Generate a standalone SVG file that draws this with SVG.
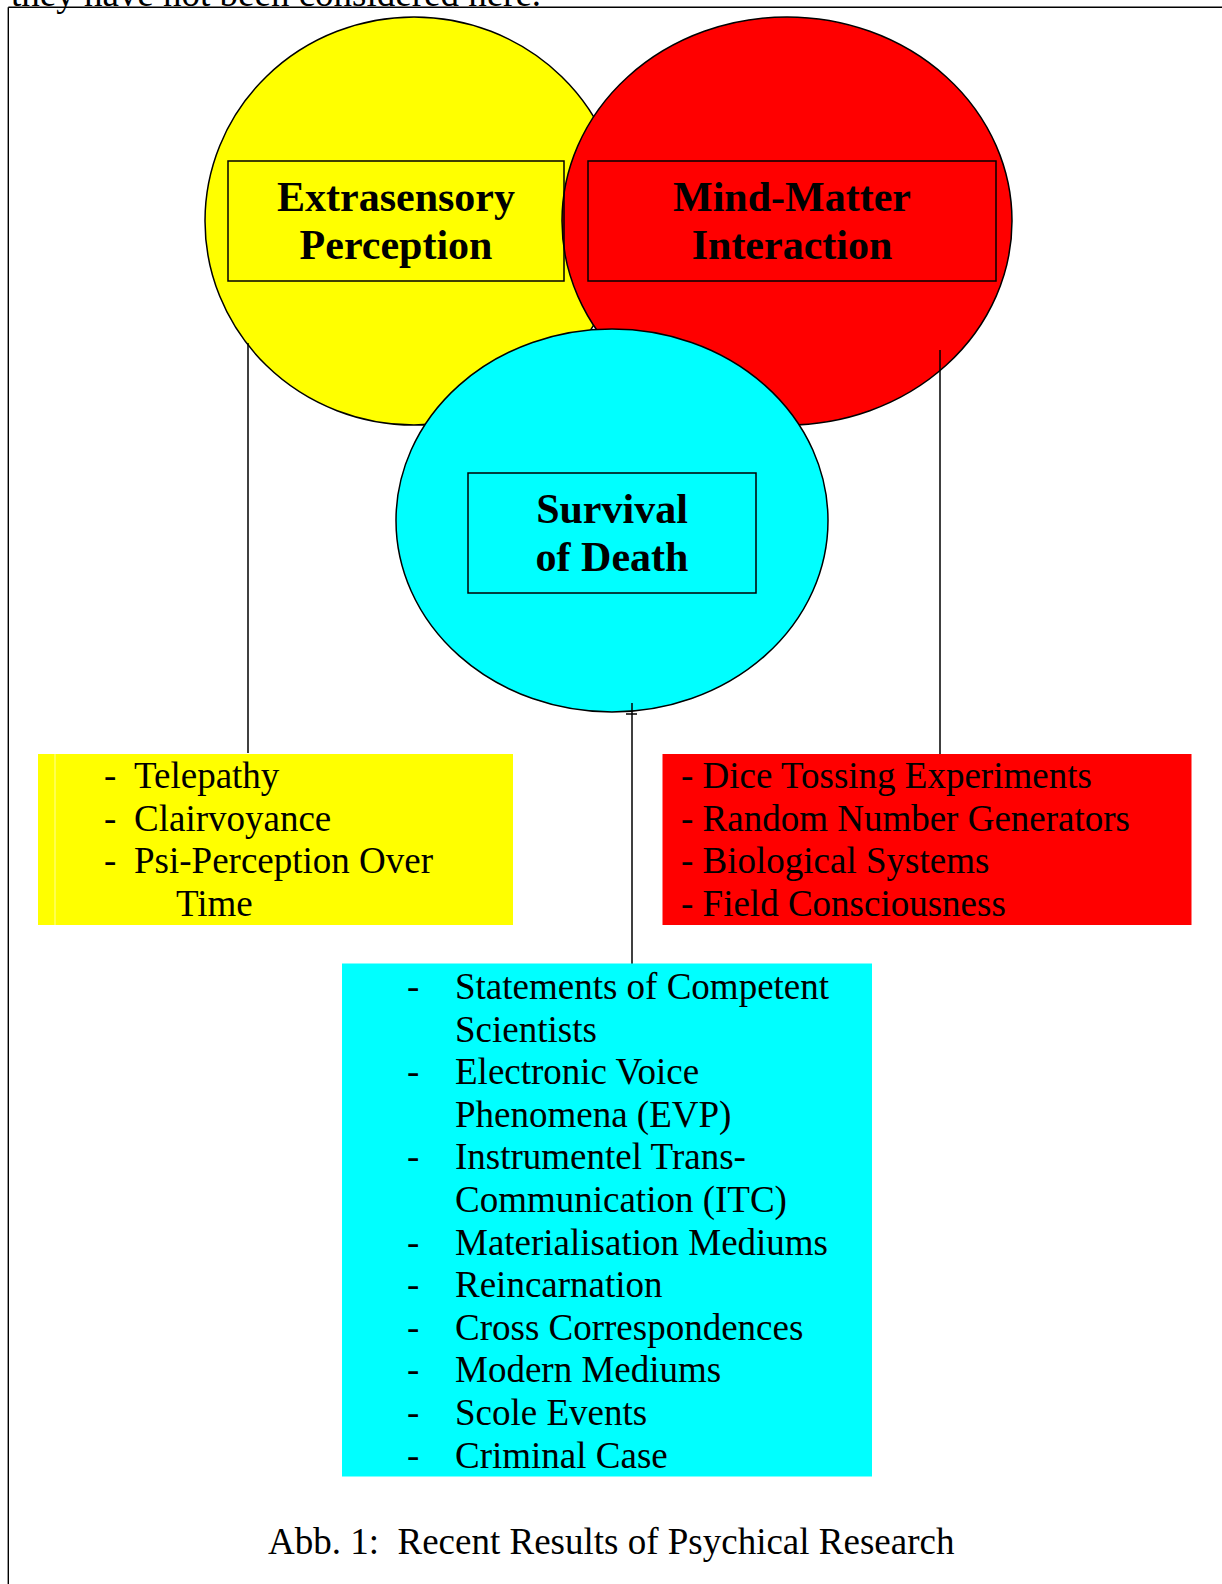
<svg xmlns="http://www.w3.org/2000/svg" width="1222" height="1584" viewBox="0 0 1222 1584">
<style>
.bg{fill:#ffffff}
.circ{stroke:#000;stroke-width:1.5}
.lbl{fill:none;stroke:#000;stroke-width:1.5}
.h{font-family:"Liberation Serif","Times New Roman",serif;font-weight:bold;font-size:42px;fill:#000;text-anchor:middle}
.t{font-family:"Liberation Serif","Times New Roman",serif;font-size:37px;fill:#000}
.conn{stroke:#000;stroke-width:1.5;fill:none}
</style>
<rect class="bg" x="0" y="0" width="1222" height="1584"/>
<g id="page">
<text class="t" x="11" y="6" font-size="36">they have not been considered here.</text>
<line x1="8.3" y1="7.3" x2="1222" y2="7.3" stroke="#000" stroke-width="1.4"/>
<line x1="8.3" y1="7.3" x2="8.3" y2="1584" stroke="#000" stroke-width="1.4"/>
</g>
<g id="esp-circle">
<ellipse class="circ" cx="414" cy="221" rx="209" ry="204" fill="#ffff00"/>
</g>
<g id="mm-circle">
<ellipse class="circ" cx="787" cy="221" rx="225" ry="204" fill="#ff0000"/>
</g>
<g id="esp-label">
<rect class="lbl" x="228" y="161" width="336" height="120" fill="#ffff00"/>
<text class="h" x="396" y="211">Extrasensory</text>
<text class="h" x="396" y="259">Perception</text>
</g>
<g id="mm-label">
<rect class="lbl" x="588" y="161" width="408" height="120"/>
<text class="h" x="792" y="211">Mind-Matter</text>
<text class="h" x="792" y="259">Interaction</text>
</g>
<g id="sod-circle">
<ellipse class="circ" cx="612" cy="520.5" rx="216" ry="191.5" fill="#00ffff"/>
</g>
<g id="sod-label">
<rect class="lbl" x="468" y="473" width="288" height="120"/>
<text class="h" x="612" y="523">Survival</text>
<text class="h" x="612" y="571">of Death</text>
</g>
<g id="connectors">
<line class="conn" x1="248" y1="343" x2="248" y2="753"/>
<line class="conn" x1="940" y1="350" x2="940" y2="761"/>
<line class="conn" x1="632" y1="703" x2="632" y2="969"/>
<line class="conn" x1="626" y1="714" x2="637" y2="714"/>
</g>
<g id="esp-list">
<rect x="38" y="754" width="475" height="171" fill="#ffff00"/>
<line x1="55" y1="754" x2="55" y2="925" stroke="#ffff99" stroke-width="1"/>
<text class="t" x="104" y="788">-</text><text class="t" x="134" y="788">Telepathy</text>
<text class="t" x="104" y="830.5">-</text><text class="t" x="134" y="830.5">Clairvoyance</text>
<text class="t" x="104" y="873">-</text><text class="t" x="134" y="873">Psi-Perception Over</text>
<text class="t" x="176" y="915.5">Time</text>
</g>
<g id="mm-list">
<rect x="662.5" y="754" width="529" height="171" fill="#ff0000"/>
<text class="t" x="681" y="788">- Dice Tossing Experiments</text>
<text class="t" x="681" y="830.5">- Random Number Generators</text>
<text class="t" x="681" y="873">- Biological Systems</text>
<text class="t" x="681" y="915.5">- Field Consciousness</text>
</g>
<g id="sod-list">
<rect x="342" y="963.5" width="530" height="513" fill="#00ffff"/>
<text class="t" x="407" y="999">-</text><text class="t" x="455" y="999">Statements of Competent</text>
<text class="t" x="455" y="1041.6">Scientists</text>
<text class="t" x="407" y="1084.2">-</text><text class="t" x="455" y="1084.2">Electronic Voice</text>
<text class="t" x="455" y="1126.8">Phenomena (EVP)</text>
<text class="t" x="407" y="1169.4">-</text><text class="t" x="455" y="1169.4">Instrumentel Trans-</text>
<text class="t" x="455" y="1212">Communication (ITC)</text>
<text class="t" x="407" y="1254.6">-</text><text class="t" x="455" y="1254.6">Materialisation Mediums</text>
<text class="t" x="407" y="1297.2">-</text><text class="t" x="455" y="1297.2">Reincarnation</text>
<text class="t" x="407" y="1339.8">-</text><text class="t" x="455" y="1339.8">Cross Correspondences</text>
<text class="t" x="407" y="1382.4">-</text><text class="t" x="455" y="1382.4">Modern Mediums</text>
<text class="t" x="407" y="1425">-</text><text class="t" x="455" y="1425">Scole Events</text>
<text class="t" x="407" y="1467.6">-</text><text class="t" x="455" y="1467.6">Criminal Case</text>
</g>
<g id="caption">
<text class="t" x="268" y="1553.5" xml:space="preserve">Abb. 1:  Recent Results of Psychical Research</text>
</g>
</svg>
